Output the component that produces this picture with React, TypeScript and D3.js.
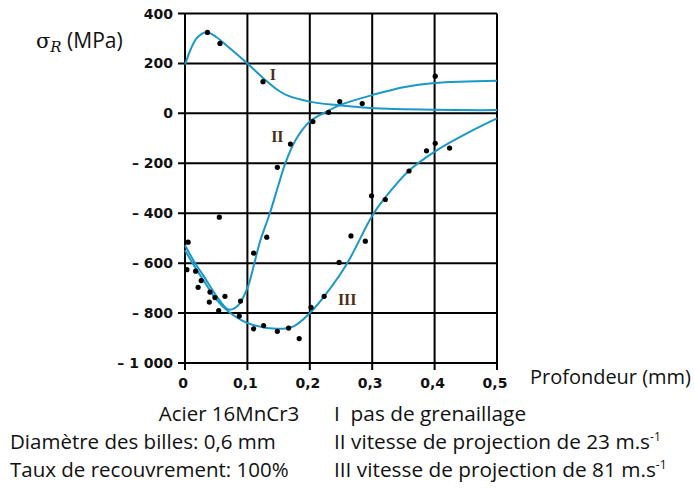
import React from "react";
import * as d3 from "d3";

// ---- data ----
const yTicks = [400, 200, 0, -200, -400, -600, -800, -1000];
const yTickLabels = ["400", "200", "0", "\u2013 200", "\u2013 400", "\u2013 600", "\u2013 800", "\u2013 1 000"];
const xTicks = [0, 0.1, 0.2, 0.3, 0.4, 0.5];
const xTickLabels = ["0", "0,1", "0,2", "0,3", "0,4", "0,5"];

const curveIDepth = [0, 0.01, 0.02, 0.035, 0.05, 0.07, 0.1, 0.126, 0.145, 0.163, 0.2, 0.243, 0.297, 0.4, 0.5];
const curveIStress = [195, 262, 305, 325, 306, 265, 200, 140, 100, 73, 47, 33, 21, 14, 13];

const curveIIDepth = [0, 0.015, 0.03, 0.05, 0.07, 0.085, 0.1, 0.11, 0.12, 0.136, 0.15, 0.16, 0.177, 0.2, 0.227, 0.25, 0.3, 0.35, 0.4, 0.5];
const curveIIStress = [-528, -595, -652, -730, -786, -770, -700, -612, -515, -400, -285, -205, -108, -33, 7, 35, 73, 105, 122, 131];

const curveIIIDepth = [0, 0.015, 0.03, 0.05, 0.07, 0.1, 0.147, 0.174, 0.2, 0.227, 0.26, 0.3, 0.32, 0.36, 0.404, 0.457, 0.5];
const curveIIIStress = [-548, -612, -670, -745, -795, -840, -863, -853, -800, -720, -600, -410, -340, -227, -147, -73, -20];

const pointDepth = [
  0.036, 0.056, 0.125,
  0.248, 0.284, 0.401,
  0.148, 0.169, 0.205, 0.23, 0.11, 0.131, 0.055,
  0.005, 0.003, 0.017, 0.026, 0.021, 0.04, 0.039, 0.048, 0.054, 0.064, 0.089, 0.087,
  0.11, 0.126, 0.148, 0.166, 0.183, 0.202, 0.223, 0.247, 0.266, 0.289, 0.299, 0.321, 0.359, 0.387, 0.401, 0.424,
];
const pointStress = [
  324, 280, 127,
  47, 39, 149,
  -216, -123, -33, 4, -560, -496, -416,
  -516, -626, -632, -670, -697, -716, -756, -738, -790, -733, -752, -812,
  -863, -850, -873, -860, -902, -777, -733, -597, -491, -512, -330, -345, -231, -150, -120, -139,
];

const curveLabels = ["I", "II", "III"];
const curveLabelDepth = [0.141, 0.148, 0.26];
const curveLabelStress = [155, -90, -745];

const legendLeft = ["Acier 16MnCr3", "Diam\u00e8tre des billes: 0,6 mm", "Taux de recouvrement: 100%"];
const legendRight = ["I\u00a0\u00a0pas de grenaillage", "II vitesse de projection de 23 m.s", "III vitesse de projection de 81 m.s"];
const legendRightSup = ["", "-1", "-1"];

// ---- layout ----
const W = 695;
const H = 489;
const x = d3.scaleLinear().domain([0, 0.5]).range([185, 497]);
const y = d3.scaleLinear().domain([-1000, 400]).range([363, 13.5]);

const line = d3
  .line<number[]>()
  .x((d) => x(d[0]))
  .y((d) => y(d[1]))
  .curve(d3.curveCatmullRom.alpha(0.5));

const zip = (a: number[], b: number[]) => a.map((v, i) => [v, b[i]]);

const BLUE = "#1a98c6";
const sans = "'Open Sans', 'Noto Sans', sans-serif";
const tickFont = "'DejaVu Sans', sans-serif";
const legendY = [421, 449, 477];

export default function App() {
  const curves = [
    zip(curveIDepth, curveIStress),
    zip(curveIIDepth, curveIIStress),
    zip(curveIIIDepth, curveIIIStress),
  ];
  return (
    <svg
      width={W}
      height={H}
      viewBox={`0 0 ${W} ${H}`}
      style={{ position: "absolute", left: 0, top: 0, background: "#fff" }}
    >
      <rect x={0} y={0} width={W} height={H} fill="#fff" />
      {/* horizontal grid */}
      {yTicks.map((t) => (
        <line key={"h" + t} x1={178} x2={x(0.5)} y1={y(t)} y2={y(t)} stroke="#000" strokeWidth={2} />
      ))}
      {/* vertical grid */}
      {xTicks.map((t) => (
        <line key={"v" + t} x1={x(t)} x2={x(t)} y1={y(400)} y2={y(-1000) + 7} stroke="#000" strokeWidth={2} />
      ))}
      {/* y tick labels */}
      {yTicks.map((t, i) => (
        <text
          key={"yl" + t}
          x={173}
          y={y(t)}
          dy="0.36em"
          textAnchor="end"
          fontFamily={tickFont}
          fontWeight="bold"
          fontSize={14}
          fill="#111"
        >
          {yTickLabels[i]}
        </text>
      ))}
      {/* x tick labels */}
      {xTicks.map((t, i) => (
        <text
          key={"xl" + t}
          x={x(t) - 2}
          y={388}
          textAnchor="middle"
          fontFamily={tickFont}
          fontWeight="bold"
          fontSize={14}
          fill="#111"
        >
          {xTickLabels[i]}
        </text>
      ))}
      {/* curves */}
      {curves.map((c, i) => (
        <path key={"c" + i} d={line(c) || ""} fill="none" stroke={BLUE} strokeWidth={2} />
      ))}
      {/* points */}
      {pointDepth.map((d, i) => (
        <circle key={"p" + i} cx={x(d)} cy={y(pointStress[i])} r={2.6} fill="#000" />
      ))}
      {/* curve labels */}
      {curveLabels.map((l, i) => (
        <text
          key={"cl" + l}
          x={x(curveLabelDepth[i])}
          y={y(curveLabelStress[i])}
          textAnchor="middle"
          dy="0.36em"
          fontFamily="'Liberation Serif', serif"
          fontWeight="bold"
          fontSize={16}
          fill="#4a2e18"
        >
          {l}
        </text>
      ))}
      {/* y axis title */}
      <text x={36} y={48} fontFamily={sans} fontSize={21} fill="#111">
        <tspan fontFamily="'DejaVu Serif', serif">σ</tspan>
        <tspan fontFamily="'DejaVu Serif', serif" fontStyle="italic" fontSize={15} dy={4}>R</tspan>
        <tspan dy={-4}>{"\u00a0(MPa)"}</tspan>
      </text>
      {/* x axis title */}
      <text
        x={530}
        y={384}
        fontFamily={sans}
        fontSize={20}
        textLength={161}
        lengthAdjust="spacingAndGlyphs"
        fill="#111"
      >
        Profondeur (mm)
      </text>
      {/* bottom legend */}
      <text x={229} y={legendY[0]} textAnchor="middle" fontFamily={sans} fontSize={20.5} fill="#111">
        {legendLeft[0]}
      </text>
      <text x={10} y={legendY[1]} fontFamily={sans} fontSize={20.5} fill="#111">
        {legendLeft[1]}
      </text>
      <text x={10} y={legendY[2]} fontFamily={sans} fontSize={20.5} fill="#111">
        {legendLeft[2]}
      </text>
      {legendRight.map((s, i) => (
        <text key={"lr" + i} x={334} y={legendY[i]} fontFamily={sans} fontSize={20.8} fill="#111">
          {s}
          {legendRightSup[i] ? (
            <tspan fontSize={12} dy={-8}>
              {legendRightSup[i]}
            </tspan>
          ) : null}
        </text>
      ))}
    </svg>
  );
}
